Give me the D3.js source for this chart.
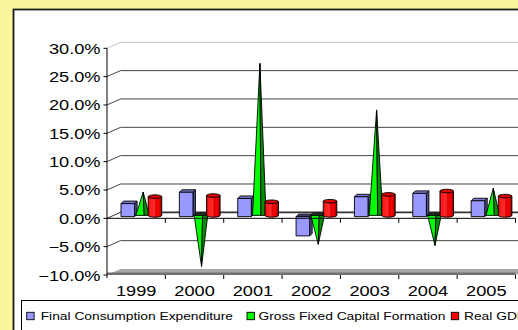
<!DOCTYPE html>
<html>
<head>
<meta charset="utf-8">
<script src="https://cdn.jsdelivr.net/npm/d3@7"></script>
<style>
  html, body { margin: 0; padding: 0; background: #ffffff; }
  svg { display: block; }
  text { font-family: "Liberation Sans", Arial, sans-serif; fill: #000; }
</style>
</head>
<body>
<svg id="chart" width="518" height="330"></svg>
<script>
// Annual growth rates, 1999-2005
const years = ["1999", "2000", "2001", "2002", "2003", "2004", "2005"];
const finalConsumption = [2.3, 4.3, 3.2, -3.4, 3.5, 4.1, 2.8];
const grossFixedCapital = [4.1, -9.0, 26.8, -5.1, 18.6, -5.3, 4.8];
const realGDP = [3.3, 3.5, 2.4, 2.5, 3.7, 4.3, 3.4];
const seriesNames = ["Final Consumption Expenditure", "Gross Fixed Capital Formation", "Real GDP"];
const yTicks = [-10, -5, 0, 5, 10, 15, 20, 25, 30];

const svg = d3.select("#chart");
const W = 518, H = 330;

// page background and chart area
svg.append("rect").attr("width", W).attr("height", H).attr("fill", "#fbf59b");
svg.append("rect").attr("x", 13.5).attr("y", 9.5).attr("width", 600).attr("height", 400)
  .attr("fill", "#ffffff").attr("stroke", "#1a1a1a").attr("stroke-width", 1.8);

// plot geometry (front plane) and wall depth offset
const plotL = 107, plotR = 515.5;
const depthX = 13.5, depthY = -6;
const x = d3.scaleBand().domain(years).range([plotL, plotR]).padding(0);
const y = d3.scaleLinear().domain([-10, 30]).range([275, 48.3]);
const inner = d3.scaleBand().domain(seriesNames).range([9, x.bandwidth() - 8.6]).padding(0);
const bw = inner.bandwidth();

const g = svg.append("g");

// floor at the bottom of the value range
const yf = y(-10);
g.append("path")
  .attr("d", `M${plotL},${yf} L${plotR},${yf} L${plotR + depthX},${yf + depthY} L${plotL + depthX},${yf + depthY} Z`)
  .attr("fill", "#a8a8a8");
g.append("line").attr("x1", plotL).attr("x2", plotR).attr("y1", yf - 1.2).attr("y2", yf - 1.2)
  .attr("stroke", "#707070").attr("stroke-width", 2.4);

// back-wall gridlines with side-wall connectors
yTicks.filter(t => t > -10).forEach(t => {
  const yy = y(t);
  const col = t === 30 ? "#c4c4c4" : (t === 0 ? "#333333" : "#444444");
  const sw = t === 0 ? 1.6 : 1;
  g.append("line").attr("x1", plotL + depthX).attr("x2", W + 20)
    .attr("y1", yy + depthY).attr("y2", yy + depthY)
    .attr("stroke", col).attr("stroke-width", sw);
  g.append("line").attr("x1", plotL).attr("y1", yy).attr("x2", plotL + depthX).attr("y2", yy + depthY)
    .attr("stroke", col).attr("stroke-width", 1);
});

// marks
const frontDX = 5, frontDY = -1.7;   // front face of the columns
const boxDX = 2.5, boxDY = -2.5;     // column depth
const y0 = y(0);

const marks = g.append("g");

function drawBox(cx, v) {
  const xf = cx + frontDX;
  const a = y0 + frontDY, b = y(v) + frontDY;
  const top = Math.min(a, b), bot = Math.max(a, b);
  const grp = marks.append("g").attr("stroke", "#000").attr("stroke-width", 0.9).attr("stroke-linejoin", "round");
  grp.append("path")
    .attr("d", `M${xf + bw},${top} L${xf + bw + boxDX},${top + boxDY} L${xf + bw + boxDX},${bot + boxDY} L${xf + bw},${bot} Z`)
    .attr("fill", "#4d4d8f");
  grp.append("path")
    .attr("d", `M${xf},${top} L${xf + bw},${top} L${xf + bw + boxDX},${top + boxDY} L${xf + boxDX},${top + boxDY} Z`)
    .attr("fill", v < 0 ? "#3a3a6a" : "#7c7cd0");
  grp.append("rect").attr("x", xf).attr("y", top).attr("width", bw).attr("height", bot - top)
    .attr("fill", "#9999ff");
}

function drawCone(cx, v) {
  const xl = cx + frontDX + 1.2, xr = xl + bw, xm = xl + bw * 0.62;
  const yb = y0 + frontDY - 1.25, ya = y(v) + frontDY - 1.25;
  const xa = xl + bw / 2 + 0.6;
  const grp = marks.append("g").attr("stroke", "#000").attr("stroke-width", 0.9).attr("stroke-linejoin", "round");
  if (v < 0) {
    grp.append("ellipse").attr("cx", (xl + xr) / 2 + 0.6).attr("cy", yb - 0.6)
      .attr("rx", bw / 2 + 0.4).attr("ry", 1.8).attr("fill", "#1e3a1e");
  }
  grp.append("path").attr("d", `M${xl},${yb} L${xa},${ya} L${xm},${yb} Z`).attr("fill", "#00ff00");
  grp.append("path").attr("d", `M${xm},${yb} L${xa},${ya} L${xr},${yb} Z`).attr("fill", "#009000");
}

// horizontal shading for the cylinders
const defs = svg.append("defs");
const cyl = defs.append("linearGradient").attr("id", "cylRed").attr("x1", 0).attr("x2", 1).attr("y1", 0).attr("y2", 0);
[[0, "#b00000"], [0.12, "#ff1a1a"], [0.45, "#ff2a2a"], [0.58, "#d80000"], [0.72, "#ff0000"], [0.88, "#c80000"], [1, "#7a0000"]]
  .forEach(([o, c]) => cyl.append("stop").attr("offset", o).attr("stop-color", c));

function drawCylinder(cx, v) {
  const xl = cx + frontDX, xr = xl + bw;
  const yb = y0 + frontDY - 1.25, yt = y(v) + frontDY - 1.25;
  const top = Math.min(yb, yt), bot = Math.max(yb, yt);
  const rx = bw / 2, ry = 1.8;
  const grp = marks.append("g").attr("stroke", "#000").attr("stroke-width", 0.9);
  grp.append("path")
    .attr("d", `M${xl},${top} L${xl},${bot} A${rx},${ry} 0 0 0 ${xr},${bot} L${xr},${top} Z`)
    .attr("fill", "url(#cylRed)");
  grp.append("ellipse").attr("cx", (xl + xr) / 2).attr("cy", top).attr("rx", rx).attr("ry", ry)
    .attr("fill", "#e00000");
}

years.forEach((yr, i) => {
  const cx = x(yr);
  drawBox(cx + inner(seriesNames[0]), finalConsumption[i]);
  drawCone(cx + inner(seriesNames[1]), grossFixedCapital[i]);
  drawCylinder(cx + inner(seriesNames[2]), realGDP[i]);
});

// front axes
const axes = svg.append("g").attr("stroke", "#000").attr("stroke-width", 1);
axes.append("line").attr("x1", plotL).attr("x2", plotL).attr("y1", y(30)).attr("y2", y(-10) + 3);
axes.append("line").attr("x1", plotL).attr("x2", plotR).attr("y1", y0).attr("y2", y0);
const bounds = years.map(d => x(d)).concat([plotR]);
bounds.slice(1).forEach(bx => {
  axes.append("line").attr("x1", bx).attr("x2", bx).attr("y1", y0).attr("y2", y0 + 4.5);
  axes.append("line").attr("x1", bx).attr("x2", bx).attr("y1", yf).attr("y2", yf + 4);
});
yTicks.forEach(t => {
  axes.append("line").attr("x1", plotL - 3.5).attr("x2", plotL).attr("y1", y(t)).attr("y2", y(t));
});

// value axis labels
const fmt = d3.format(".1f");
yTicks.forEach(t => {
  svg.append("text")
    .attr("transform", `translate(${plotL - 6.5},${y(t) + 5.5}) scale(1.3,1)`)
    .attr("text-anchor", "end").attr("font-size", 14)
    .text(fmt(t) + "%");
});

// category labels
years.forEach(yr => {
  svg.append("text")
    .attr("transform", `translate(${x(yr) + x.bandwidth() / 2},${295.5}) scale(1.3,1)`)
    .attr("text-anchor", "middle").attr("font-size", 14)
    .text(yr);
});

// legend
const legend = svg.append("g");
legend.append("rect").attr("x", 21.5).attr("y", 300.5).attr("width", 600).attr("height", 60)
  .attr("fill", "#ffffff").attr("stroke", "#000").attr("stroke-width", 1);
const legendColors = ["#9999ff", "#00ff00", "#ff0000"];
const markerX = [26.7, 247, 451.3];
const textX = [40.7, 258.5, 464];
seriesNames.forEach((name, i) => {
  legend.append("rect").attr("x", markerX[i]).attr("y", 312.3).attr("width", 7.4).attr("height", 7.4)
    .attr("fill", legendColors[i]).attr("stroke", "#000").attr("stroke-width", 0.9);
  legend.append("text")
    .attr("transform", `translate(${textX[i]},${320}) scale(1.2,1)`)
    .attr("font-size", 11.5)
    .text(name);
});
</script>
</body>
</html>
